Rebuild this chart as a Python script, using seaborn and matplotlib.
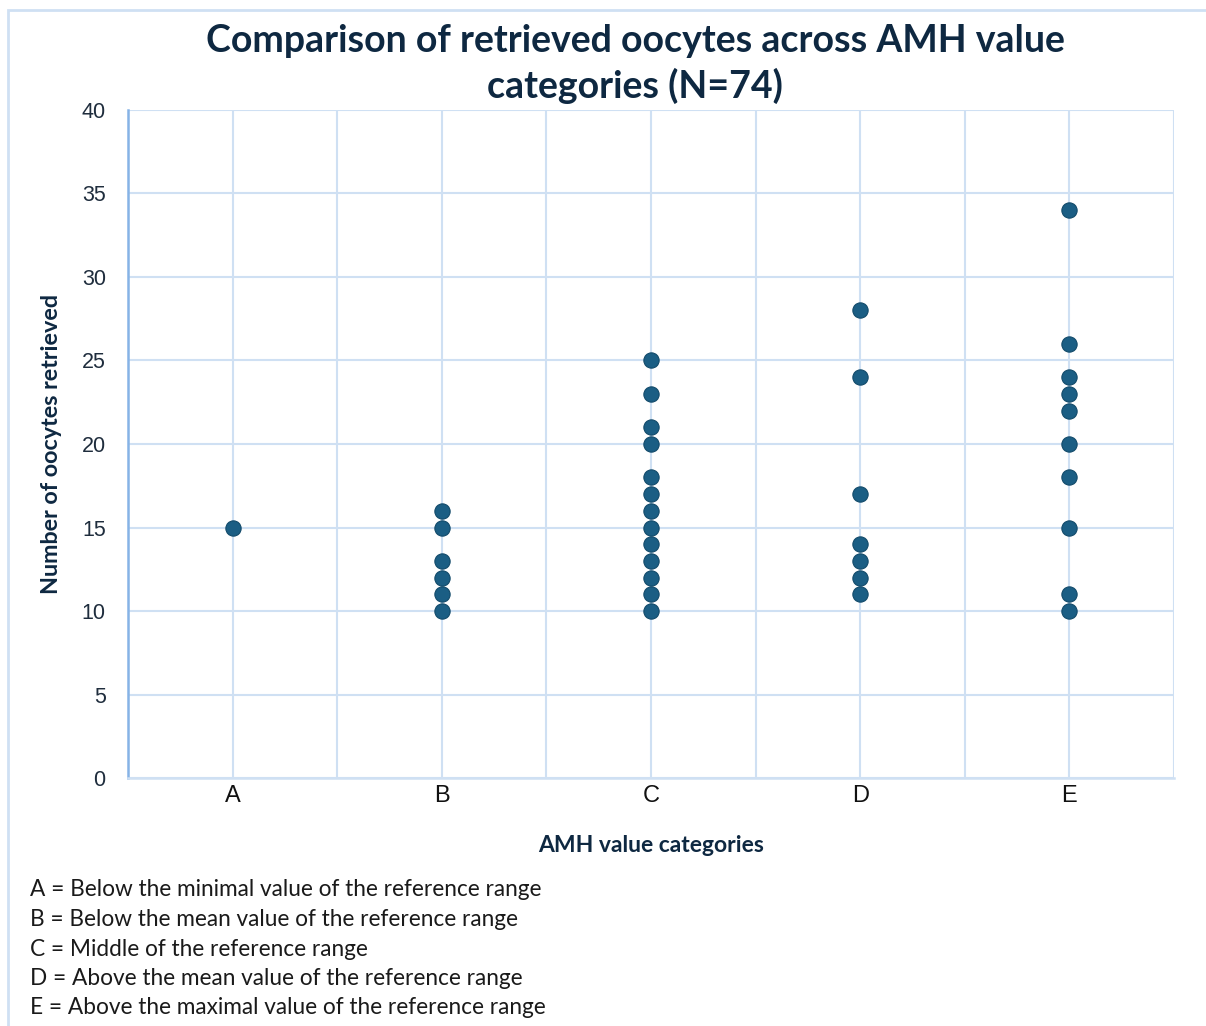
"""Retrieved oocytes by AMH value category (strip plot)."""

import matplotlib

matplotlib.use("Agg")
import matplotlib.pyplot as plt  # noqa: E402
import numpy as np  # noqa: E402
import pandas as pd  # noqa: E402
import seaborn as sns  # noqa: E402
from matplotlib.patches import Rectangle  # noqa: E402

CATEGORIES = ["A", "B", "C", "D", "E"]
OOCYTES_A = [15]
OOCYTES_B = [16, 15, 13, 12, 11, 10]
OOCYTES_C = [25, 23, 21, 20, 18, 17, 16, 15, 14, 13, 12, 11, 10]
OOCYTES_D = [28, 24, 17, 14, 13, 12, 11]
OOCYTES_E = [34, 26, 24, 23, 22, 20, 18, 15, 11, 10]
FOOTNOTES = [
    "A = Below the minimal value of the reference range",
    "B = Below the mean value of the reference range",
    "C = Middle of the reference range",
    "D = Above the mean value of the reference range",
    "E = Above the maximal value of the reference range",
]

NAVY = "#0e2841"
GRID = "#cfe0f3"
DOT = "#1b5e84"
TEXT_FONT = ["Lato", "DejaVu Sans"]


def build_frame():
    rows = []
    for cat, vals in zip(CATEGORIES, [OOCYTES_A, OOCYTES_B, OOCYTES_C, OOCYTES_D, OOCYTES_E]):
        rows += [(cat, v) for v in vals]
    return pd.DataFrame(rows, columns=["category", "oocytes"])


def main():
    df = build_frame()
    sns.set_style("white")
    plt.rcParams["font.family"] = ["Liberation Sans", "DejaVu Sans"]

    fig = plt.figure(figsize=(12.06, 10.26), dpi=100)
    ax = fig.add_axes([0.1061, 0.2417, 0.8674, 0.6511])

    # light outline of the chart area
    fig.patches.append(Rectangle((8 / 1206, -0.1), 1.2, 1 - 10 / 1026 + 0.1,
                                 transform=fig.transFigure, fill=False,
                                 edgecolor=GRID, linewidth=2, zorder=0))

    sns.stripplot(data=df, x="category", y="oocytes", order=CATEGORIES, jitter=False,
                  color=DOT, size=11, edgecolor="#124a6a", linewidth=0.8, ax=ax, zorder=3)

    ax.set_xlim(-0.5, 4.5)
    ax.set_ylim(0, 40)
    ax.set_yticks(np.arange(0, 41, 5))
    ax.set_xticks(range(5))
    ax.set_xticks(np.arange(-0.5, 4.51, 1.0), minor=True)
    ax.grid(True, which="major", color=GRID, linewidth=1.5)
    ax.grid(True, which="minor", axis="x", color=GRID, linewidth=1.5)
    ax.set_axisbelow(True)
    ax.tick_params(which="both", length=0)
    ax.tick_params(axis="y", labelsize=15.5, labelcolor="#1f2d3d", pad=16)
    ax.tick_params(axis="x", labelsize=17, labelcolor="#111111", pad=5)

    for side in ["top", "right"]:
        ax.spines[side].set_visible(False)
    ax.spines["left"].set_color("#86b3e6")
    ax.spines["left"].set_linewidth(1.8)
    ax.spines["bottom"].set_color(GRID)
    ax.spines["bottom"].set_linewidth(1.8)

    ax.set_xlabel("AMH value categories", fontsize=16.5, fontweight="bold", color=NAVY,
                  family=TEXT_FONT, labelpad=20)
    ax.set_ylabel("Number of oocytes retrieved", fontsize=16.8, fontweight="bold", color=NAVY,
                  family=TEXT_FONT, labelpad=14)

    fig.text(635 / 1206, 1 - 64 / 1026,
             "Comparison of retrieved oocytes across AMH value\ncategories (N=74)",
             ha="center", va="center", fontsize=27, fontweight="bold", color=NAVY,
             family=TEXT_FONT, linespacing=1.3)

    for i, line in enumerate(FOOTNOTES):
        fig.text(30 / 1206, 1 - (890 + i * 29.5) / 1026, line, ha="left", va="center",
                 fontsize=16.3, color="#1a1a1a", family=TEXT_FONT)

    fig.savefig("out.png", dpi=100, facecolor="white")
    plt.close(fig)


if __name__ == "__main__":
    main()
